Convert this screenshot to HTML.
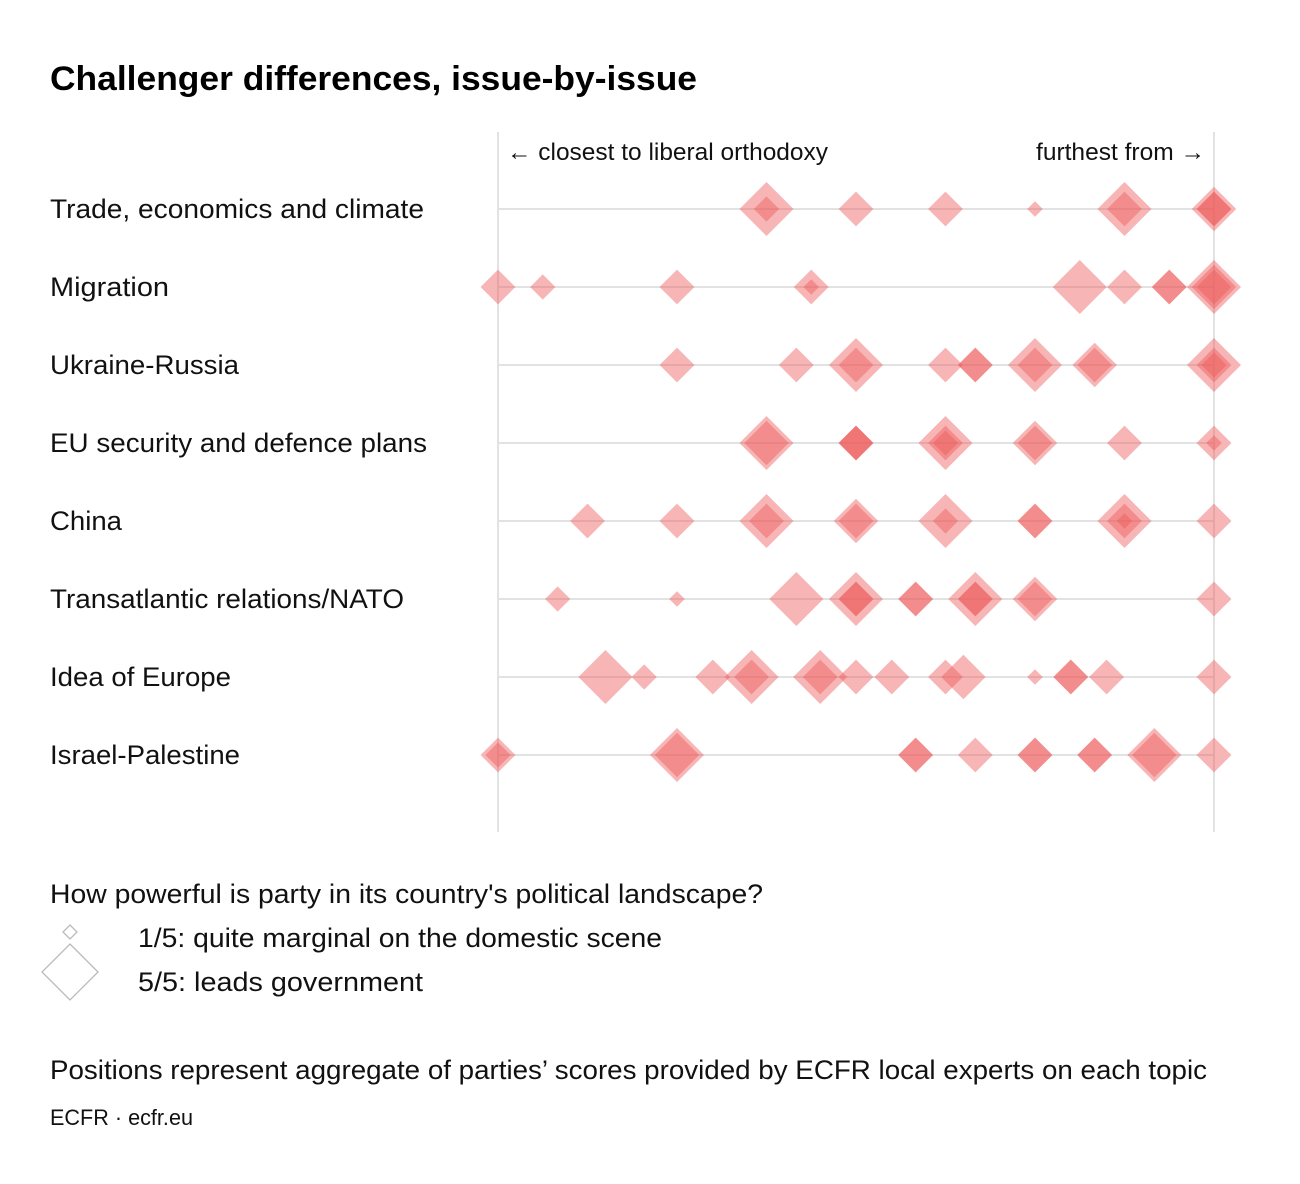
<!DOCTYPE html>
<html><head><meta charset="utf-8"><style>
html,body{margin:0;padding:0;background:#fff;}
svg{display:block;font-family:"Liberation Sans",sans-serif;}
</style></head><body>
<svg id="chart" width="1300" height="1184" viewBox="0 0 1300 1184" xmlns="http://www.w3.org/2000/svg">
<text x="50" y="90" font-size="34" font-weight="bold" fill="#000" textLength="647" lengthAdjust="spacingAndGlyphs">Challenger differences, issue-by-issue</text>
<line x1="498" y1="132" x2="498" y2="832" stroke="#e2e2e2" stroke-width="2"/>
<line x1="1214" y1="132" x2="1214" y2="832" stroke="#e2e2e2" stroke-width="2"/>
<text x="507" y="160" font-size="24" fill="#111" textLength="321" lengthAdjust="spacingAndGlyphs">← closest to liberal orthodoxy</text>
<text x="1036" y="160" font-size="24" fill="#111" textLength="169" lengthAdjust="spacingAndGlyphs">furthest from →</text>
<g id="rows"></g>
<g id="marks"></g>
<text x="50" y="903" font-size="27" fill="#111" textLength="713" lengthAdjust="spacingAndGlyphs">How powerful is party in its country's political landscape?</text>
<polygon points="70,925 77,932 70,939 63,932" fill="none" stroke="#bbb" stroke-width="1.3"/>
<polygon points="70,944 98,972 70,1000 42,972" fill="none" stroke="#bbb" stroke-width="1.3"/>
<text x="138" y="947" font-size="27" fill="#111" textLength="524" lengthAdjust="spacingAndGlyphs">1/5: quite marginal on the domestic scene</text>
<text x="138" y="991" font-size="27" fill="#111" textLength="285" lengthAdjust="spacingAndGlyphs">5/5: leads government</text>
<text x="50" y="1079" font-size="27" fill="#111" textLength="1157" lengthAdjust="spacingAndGlyphs">Positions represent aggregate of parties’ scores provided by ECFR local experts on each topic</text>
<text x="50" y="1125" font-size="22" fill="#111" textLength="143" lengthAdjust="spacingAndGlyphs">ECFR · ecfr.eu</text>
</svg>
<script>
const categories = ["Trade, economics and climate","Migration","Ukraine-Russia","EU security and defence plans","China","Transatlantic relations/NATO","Idea of Europe","Israel-Palestine"];
const labelWidths = [374,119,189,377,72,354,181,190];
// positions on 0..24 scale (0 = closest to liberal orthodoxy)
const positions = [
 [9,9,12,15,18,21,21,24,24,24],
 [0,1.5,6,10.5,10.5,19.5,21,22.5,22.5,24,24,24],
 [6,10,12,12,15,16,16,18,18,20,20,24,24,24],
 [9,9,12,12,12,15,15,15,18,18,21,24,24],
 [3,6,9,9,12,12,15,15,18,18,21,21,21,24],
 [2,6,10,12,12,12,14,14,16,16,16,18,18,24],
 [3.6,4.9,7.2,8.5,8.5,10.8,10.8,12,13.2,15,15.6,18,19.2,19.2,20.4,24],
 [0,0,6,6,14,14,16,18,18,20,20,22,22,24]
];
// party power 1..5
const powers = [
 [5,2,3,3,1,5,3,4,3,3],
 [3,2,3,3,1,5,3,3,3,5,4,3],
 [3,3,5,3,3,3,3,5,3,4,3,5,3,2],
 [5,4,3,3,3,5,3,2,4,3,3,3,1],
 [3,3,5,3,4,3,5,2,3,3,5,3,1,3],
 [2,1,5,5,3,3,3,3,5,3,3,4,3,3],
 [5,2,3,5,3,5,3,3,3,3,4,1,3,3,3,3],
 [3,2,5,4,3,3,3,3,3,3,3,5,4,3]
];
const NS="http://www.w3.org/2000/svg";
const x = v => 498 + v*(716/24);
const rowY = i => 209 + i*78;
const half = p => 3 + 4.8*p;
const rows=document.getElementById('rows'), marks=document.getElementById('marks');
categories.forEach((c,i)=>{
  const ln=document.createElementNS(NS,'line');
  
  
  ln.setAttribute('x1',498);ln.setAttribute('x2',1214);
  ln.setAttribute('y1',rowY(i));ln.setAttribute('y2',rowY(i));
  ln.setAttribute('stroke','#e2e2e2');ln.setAttribute('stroke-width','2');
  rows.appendChild(ln);
  const t=document.createElementNS(NS,'text');
  
  
  t.setAttribute('x',50);t.setAttribute('y',rowY(i)+9);
  t.setAttribute('font-size','27');t.setAttribute('fill','#111');
  t.setAttribute('textLength',labelWidths[i]);t.setAttribute('lengthAdjust','spacingAndGlyphs');
  t.textContent=c;
  rows.appendChild(t);
  positions[i].forEach((v,j)=>{
    const cx=x(v), cy=rowY(i), h=half(powers[i][j]);
    const p=document.createElementNS(NS,'polygon');
    
    
    p.setAttribute('points',`${cx},${cy-h} ${cx+h},${cy} ${cx},${cy+h} ${cx-h},${cy}`);
    p.setAttribute('fill','#ee5a5a');p.setAttribute('fill-opacity','0.45');
    marks.appendChild(p);
  });
});
</script>
</body></html>
